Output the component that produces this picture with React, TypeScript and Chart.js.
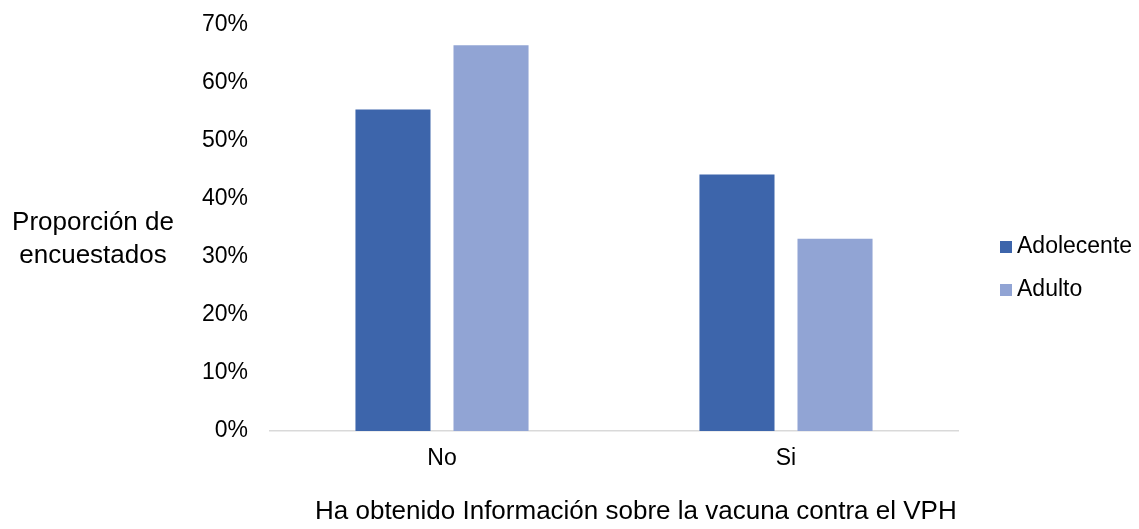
import React, { useEffect, useRef } from "react";
import { Chart, registerables } from "chart.js";

Chart.register(...registerables);

const categories = ["No", "Si"];
const adolecenteValues = [55.6, 44.4];
const adultoValues = [66.7, 33.3];
const seriesLabels = ["Adolecente", "Adulto"];
const seriesColors = ["#3D65AB", "#91A4D4"];
const yTitleLines = ["Proporción de", "encuestados"];
const xTitle = "Ha obtenido Información sobre la vacuna contra el VPH";

const FONT = 'Arial, "Liberation Sans", sans-serif';

const customText = {
  id: "customText",
  afterDraw(chart: any) {
    const ctx = chart.ctx;
    ctx.save();
    ctx.fillStyle = "#000000";
    ctx.textBaseline = "middle";
    // y title
    ctx.font = `26px ${FONT}`;
    ctx.textAlign = "center";
    ctx.fillText(yTitleLines[0], 93, 223);
    ctx.fillText(yTitleLines[1], 93, 256);
    // x title
    ctx.textAlign = "left";
    ctx.fillText(xTitle, 315, 512);
    // legend
    ctx.font = `23px ${FONT}`;
    chart.data.datasets.forEach((ds: any, i: number) => {
      const y = 247 + i * 43;
      ctx.fillStyle = ds.backgroundColor;
      ctx.fillRect(1000, y - 6, 12, 12);
      ctx.fillStyle = "#000000";
      ctx.fillText(ds.label, 1017, y);
    });
    ctx.restore();
  },
};

export default function App() {
  const ref = useRef<HTMLCanvasElement | null>(null);
  useEffect(() => {
    document.body.style.margin = "0";
    const chart = new Chart(ref.current as HTMLCanvasElement, {
      type: "bar",
      data: {
        labels: categories,
        datasets: [
          {
            label: seriesLabels[0],
            data: adolecenteValues,
            backgroundColor: seriesColors[0],
            borderColor: "rgba(255,255,255,0.25)",
            borderWidth: 1,
            categoryPercentage: 0.57,
            barPercentage: 0.786,
          },
          {
            label: seriesLabels[1],
            data: adultoValues,
            backgroundColor: seriesColors[1],
            borderColor: "rgba(255,255,255,0.25)",
            borderWidth: 1,
            categoryPercentage: 0.57,
            barPercentage: 0.786,
          },
        ],
      },
      options: {
        animation: false,
        responsive: true,
        maintainAspectRatio: false,
        layout: { padding: { left: 0, right: 181, top: 25, bottom: 0 } },
        plugins: { legend: { display: false }, tooltip: { enabled: false } },
        scales: {
          x: {
            grid: { display: false, drawTicks: false },
            border: { display: true, color: "#D9D9D9", width: 1.5 },
            ticks: { color: "#000", font: { family: FONT, size: 23 }, padding: 14 },
            afterFit: (s: any) => {
              s.height = 98;
              s.paddingLeft = 0;
              s.paddingRight = 0;
            },
          },
          y: {
            min: 0,
            max: 70,
            grid: { display: false, drawTicks: false },
            border: { display: false },
            ticks: {
              stepSize: 10,
              color: "#000",
              font: { family: FONT, size: 23 },
              padding: 22,
              callback: (v: any) => `${v}%`,
            },
            afterFit: (s: any) => {
              s.width = 270;
              s.paddingTop = 0;
              s.paddingBottom = 0;
            },
          },
        },
      },
      plugins: [customText],
    });
    return () => chart.destroy();
  }, []);
  return (
    <div style={{ position: "relative", width: 1139, height: 529 }}>
      <canvas ref={ref} />
    </div>
  );
}
